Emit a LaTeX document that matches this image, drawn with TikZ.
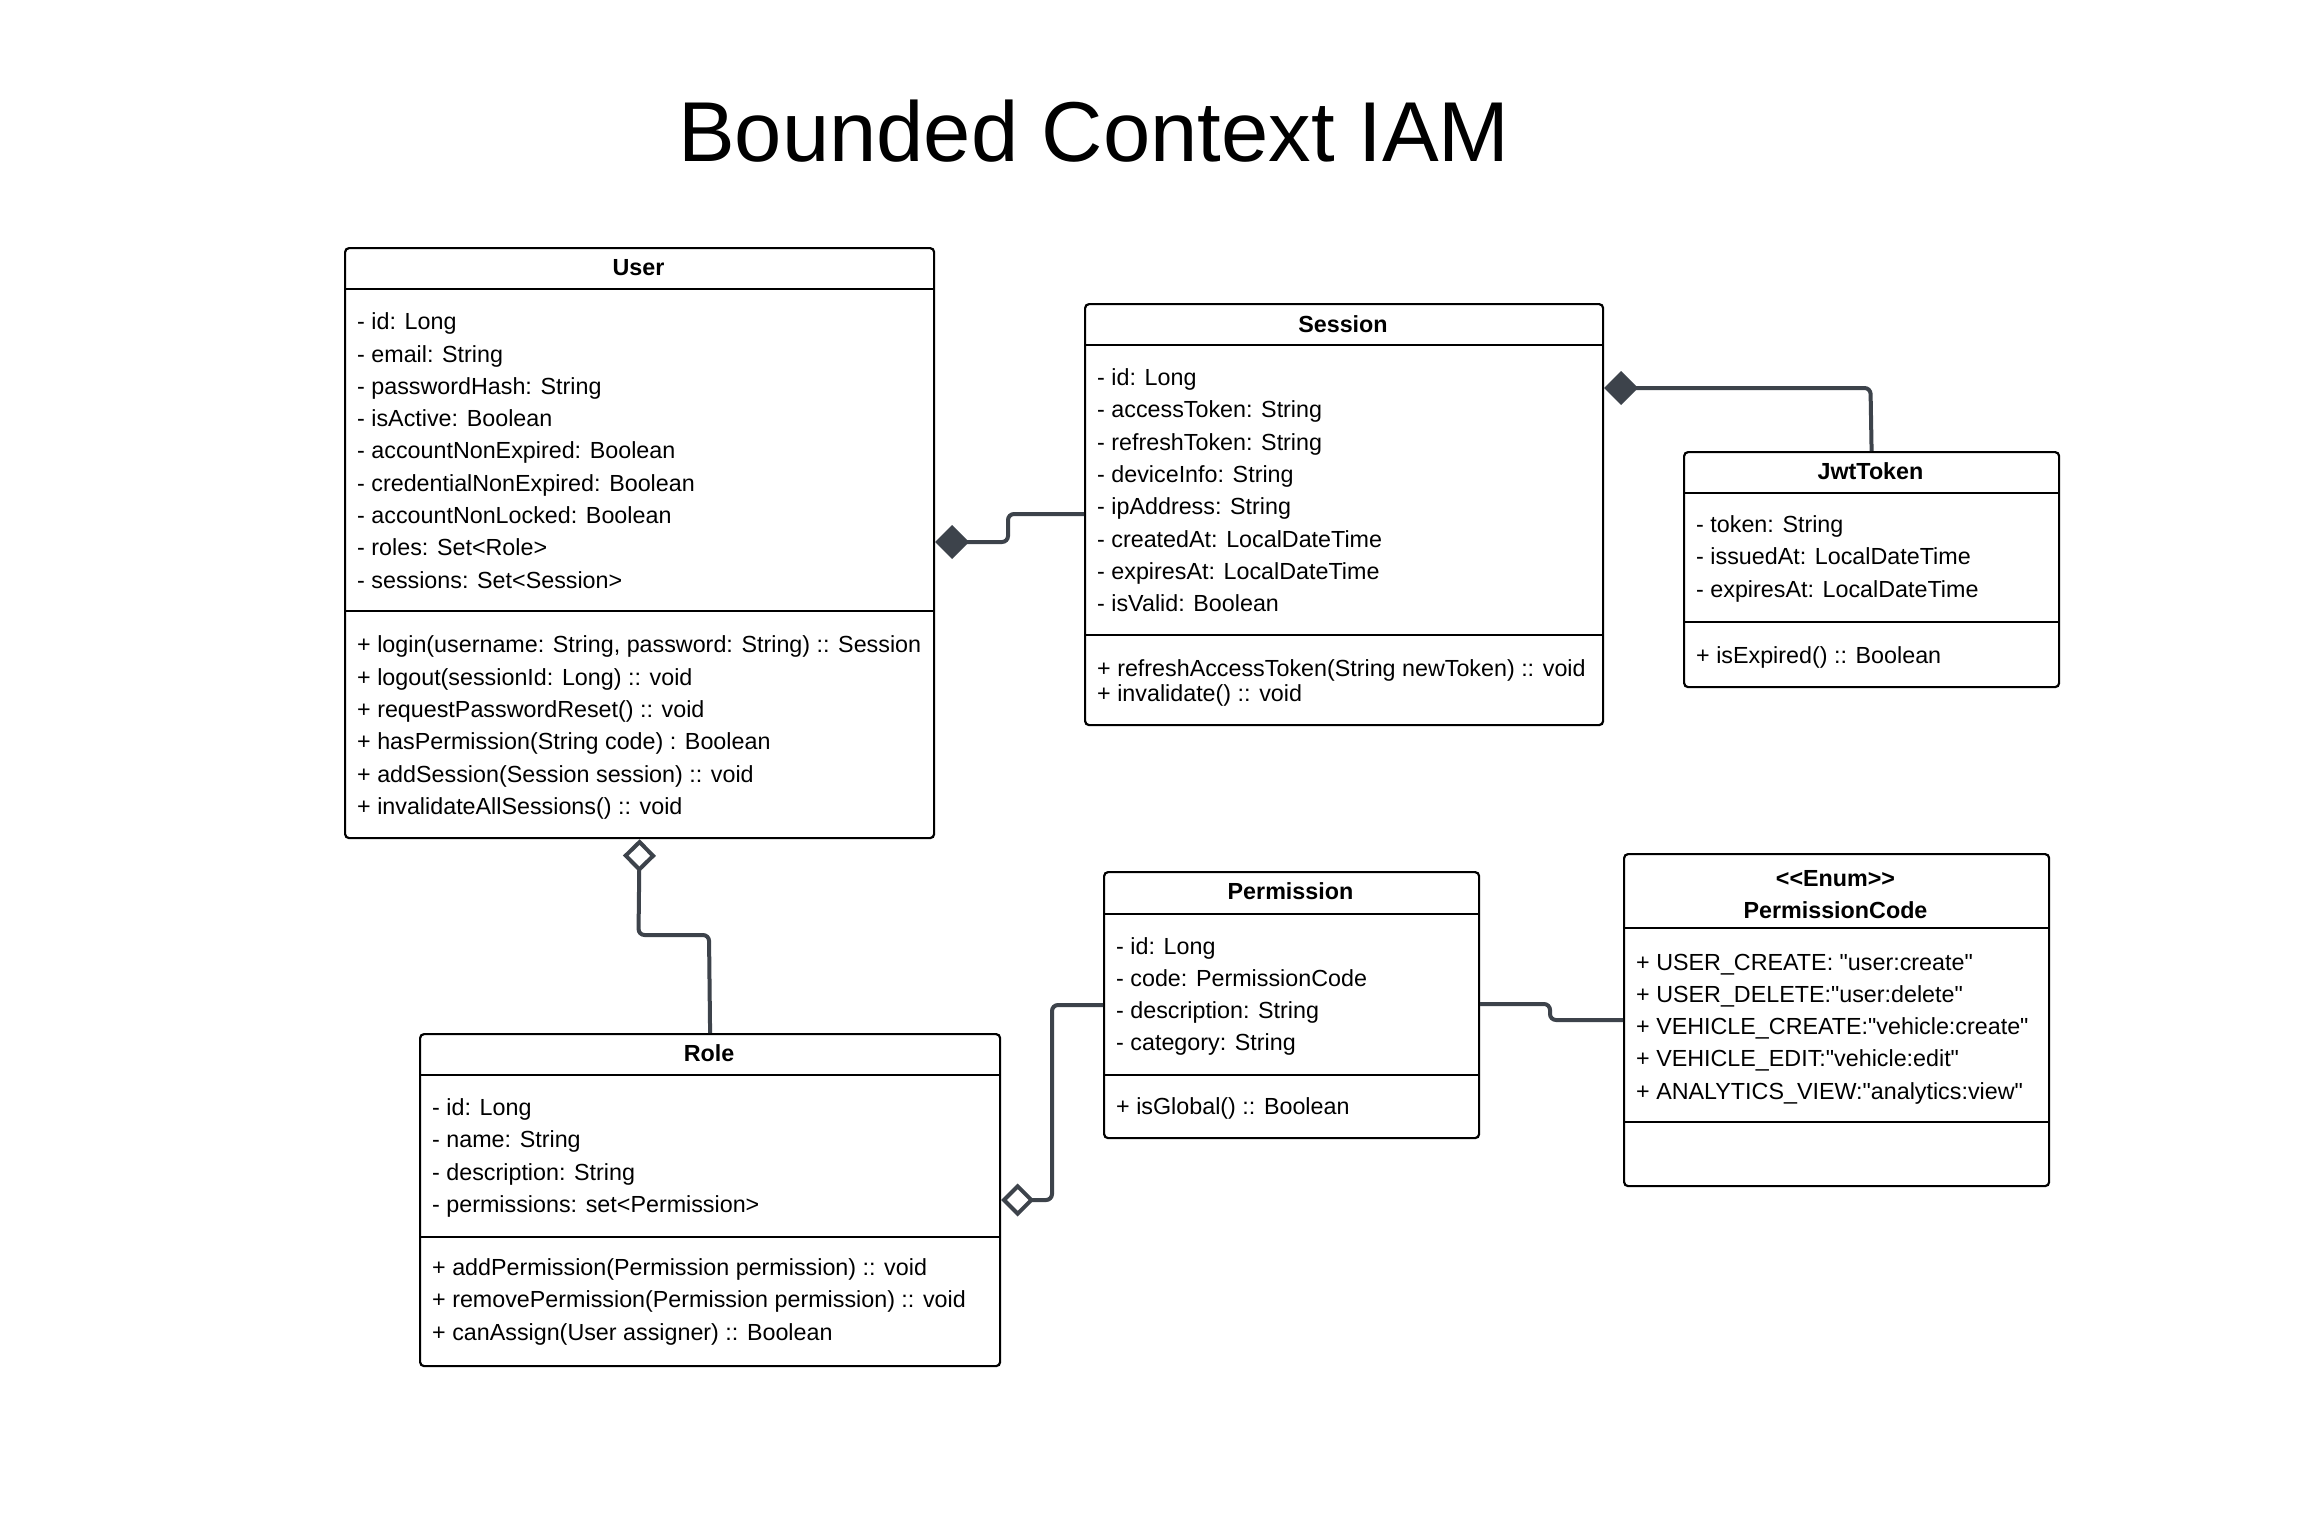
\documentclass[tikz,border=0pt]{standalone}
\usepackage{fontspec}
\setmainfont{Liberation Sans}[Ligatures=TeXOff]
\usetikzlibrary{arrows.meta}
\definecolor{linec}{HTML}{3D434B}
\newcommand\umlclass[7]{% name, x1, y1, x2, y2, header line y, separator y
  \node[box, minimum width={#4-#2}, minimum height={#5-#3}] (#1) at (#2,#3) {};
  \draw[sepline] (#1.west |- 0,#6) -- (#1.east |- 0,#6);
  \draw[sepline] (#1.west |- 0,#7) -- (#1.east |- 0,#7);
}
\newcommand\umllines[5]{% name prefix, x, first centre y, spacing, list
  \foreach [count=\i from 0] \t in {#5} {\node[txt] (#1\i) at ({#2},{#3+\i*#4+8}) {\t};}
}
\begin{document}
\begin{tikzpicture}[x=1pt,y=-1pt,
  box/.style={draw=black, line width=2.2pt, rounded corners=4pt, inner sep=0pt, anchor=north west, fill=white},
  sepline/.style={draw=black, line width=2.2pt},
  txt/.style={inner sep=0pt, anchor=base west, font=\fontsize{23.3}{28}\selectfont},
  hdr/.style={inner sep=0pt, anchor=base, font=\fontsize{23.3}{28}\selectfont\bfseries},
  conn/.style={draw=linec, line width=4pt, rounded corners=6pt},
  comp/.style={conn, -{Diamond[length=34pt 0 0, width=34pt 0 0, fill=linec, color=linec]}},
  aggr/.style={conn, -{Diamond[open, length=33pt 0 0, width=33pt 0 0, fill=white]}},
]
\useasboundingbox (0,0) rectangle (2303,1531);
\fill[white] (0,0) rectangle (2303,1531);

\node[font=\fontsize{85}{100}\selectfont, anchor=base, inner sep=0pt] (title) at (1094,161) {Bounded Context IAM};

% User
\umlclass{user}{344}{247}{933}{837}{289}{611}
\node[hdr] (userT) at (638.5,275) {User};
\umllines{ua}{357}{321.7}{32.3}{- id: Long, - email: String, - passwordHash: String, - isActive: Boolean, - accountNonExpired: Boolean, - credentialNonExpired: Boolean, - accountNonLocked: Boolean, - roles: Set<Role>, - sessions: Set<Session>}
\umllines{um}{357}{644.8}{32.3}{{+ login(username: String, password: String) :: Session}, + logout(sessionId: Long) :: void, + requestPasswordReset() :: void, + hasPermission(String code) : Boolean, + addSession(Session session) :: void, + invalidateAllSessions() :: void}

% Session
\umlclass{session}{1084}{303}{1602}{724}{345}{635}
\node[hdr] (sessionT) at (1343,332) {Session};
\umllines{sa}{1097}{377.5}{32.3}{- id: Long, - accessToken: String, - refreshToken: String, - deviceInfo: String, - ipAddress: String, - createdAt: LocalDateTime, - expiresAt: LocalDateTime, - isValid: Boolean}
\umllines{sm}{1097}{668.3}{25.5}{+ refreshAccessToken(String newToken) :: void, + invalidate() :: void}

% JwtToken
\umlclass{jwt}{1683}{451}{2058}{686}{493}{622}
\node[hdr] (jwtT) at (1870.5,479.5) {JwtToken};
\umllines{ja}{1696}{524.4}{32.3}{- token: String, - issuedAt: LocalDateTime, - expiresAt: LocalDateTime}
\umllines{jm}{1696}{655}{32.3}{+ isExpired() :: Boolean}

% Role
\umlclass{role}{419}{1033}{999}{1365}{1075}{1237}
\node[hdr] (roleT) at (709,1061) {Role};
\umllines{ra}{432}{1107.5}{32.3}{- id: Long, - name: String, - description: String, - permissions: set<Permission>}
\umllines{rm}{432}{1267.6}{32.3}{+ addPermission(Permission permission) :: void, + removePermission(Permission permission) :: void, + canAssign(User assigner) :: Boolean}

% Permission
\umlclass{perm}{1103}{871}{1478}{1137}{914}{1075}
\node[hdr] (permT) at (1290.5,899.5) {Permission};
\umllines{pa}{1116}{946}{32.3}{- id: Long, - code: PermissionCode, - description: String, - category: String}
\umllines{pm}{1116}{1106}{32.3}{+ isGlobal() :: Boolean}

% PermissionCode
\umlclass{pc}{1623}{853}{2048}{1185}{928}{1122}
\node[hdr] (pcS) at (1835.5,886) {<<Enum>>};
\node[hdr] (pcT) at (1835.5,918) {PermissionCode};
\umllines{pca}{1636}{962}{32.3}{+ USER\_CREATE: "user:create", + USER\_DELETE:"user:delete", + VEHICLE\_CREATE:"vehicle:create", + VEHICLE\_EDIT:"vehicle:edit", + ANALYTICS\_VIEW:"analytics:view"}

% Connectors
\draw[comp] (session.west |- 0,514) -- (1008,514) -- (1008,542) -- (user.east |- 0,542);
\draw[comp] (jwt.north) -- (1870.5,388) -- (session.east |- 0,388);
\draw[aggr] (role.north) -- (709,935) -- (638.5,935) -- (user.south);
\draw[aggr] (perm.west |- 0,1005) -- (1052,1005) -- (1052,1200) -- (role.east |- 0,1200);
\draw[conn] (perm.east |- 0,1004) -- (1550,1004) -- (1550,1020) -- (pc.west |- 0,1020);
\end{tikzpicture}
\end{document}
